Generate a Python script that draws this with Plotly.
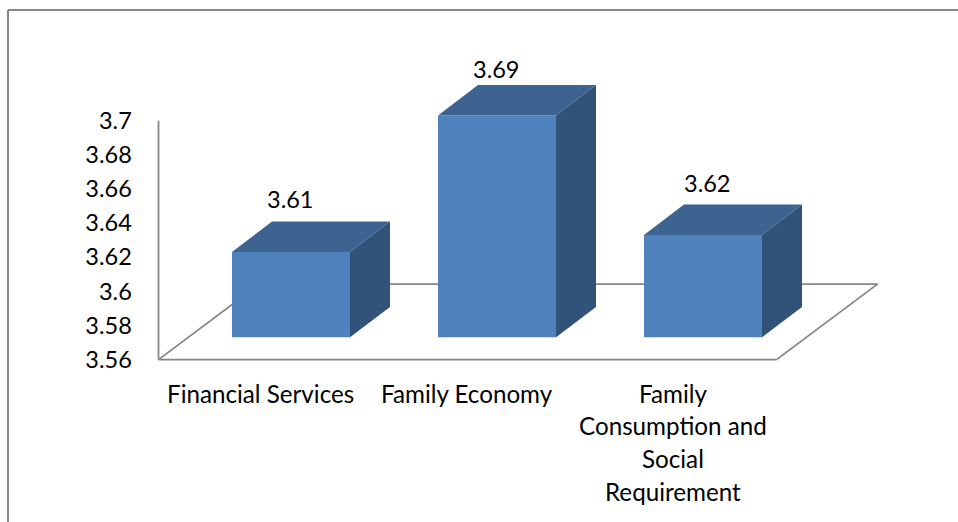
import plotly.graph_objects as go

# Series
values = [3.61, 3.69, 3.62]
value_labels = ["3.61", "3.69", "3.62"]
category_lines = [
    ["Financial Services"],
    ["Family Economy"],
    ["Family", "Consumption and", "Social", "Requirement"],
]
y_ticks = [3.56, 3.58, 3.6, 3.62, 3.64, 3.66, 3.68, 3.7]
y_tick_labels = ["3.56", "3.58", "3.6", "3.62", "3.64", "3.66", "3.68", "3.7"]

# Canvas and scale of the two axes
WIDTH, HEIGHT = 958, 522
PX_PER_CATEGORY = 206.0
PX_PER_VALUE = 1707.0
ORIGIN_X_PX = 261.5
ORIGIN_Y_PX = 359.6
AXIS_MIN = 3.56
AXIS_MAX = 3.7


def dx(px):
    return px / PX_PER_CATEGORY


def dy(px):
    return px / PX_PER_VALUE


# Oblique projection: depth of the floor, of the boxes, and the boxes' place on the floor
FLOOR_DX, FLOOR_DY = dx(101), dy(75.5)
BOX_DX, BOX_DY = dx(40), dy(30.4)
BOX_SHIFT_X, BOX_LIFT = dx(29.5), dy(22.3)
BOX_WIDTH = dx(118)

FRONT = "#4F81BD"
TOP = "#3D6390"
SIDE = "#325379"
LINE = "#868686"
FONT = "Lato"
TICK_SIZE = 23.5
VALUE_SIZE = 23.5
CATEGORY_SIZE = 24.2
# Pixel nudge of each value label above its box
LABEL_RAISE = [53, 46, 52]
LABEL_NUDGE = [-1, -1, 4]
LINE_STEP = 32.7
FIRST_LINE_DROP = 33.4

fig = go.Figure()

# Front faces
positions = [i + BOX_SHIFT_X for i in range(len(values))]
fig.add_trace(go.Bar(
    x=positions,
    y=[v - AXIS_MIN for v in values],
    base=AXIS_MIN + BOX_LIFT,
    width=BOX_WIDTH,
    marker=dict(color=FRONT, line=dict(width=0)),
    hoverinfo="skip",
    showlegend=False,
))

# Top and side faces follow from each value
for x, v in zip(positions, values):
    left, right = x - BOX_WIDTH / 2, x + BOX_WIDTH / 2
    front_top = v + BOX_LIFT
    front_base = AXIS_MIN + BOX_LIFT
    fig.add_trace(go.Scatter(
        x=[left, right, right + BOX_DX, left + BOX_DX, left],
        y=[front_top, front_top, front_top + BOX_DY, front_top + BOX_DY, front_top],
        fill="toself", fillcolor=TOP, mode="lines", line=dict(width=0),
        hoverinfo="skip", showlegend=False,
    ))
    fig.add_trace(go.Scatter(
        x=[right, right + BOX_DX, right + BOX_DX, right, right],
        y=[front_top, front_top + BOX_DY, front_base + BOX_DY, front_base, front_top],
        fill="toself", fillcolor=SIDE, mode="lines", line=dict(width=0),
        hoverinfo="skip", showlegend=False,
    ))

# Floor outline and value axis sit beneath the boxes
floor_left = -0.5
floor_right = len(values) - 0.5
floor_corners = [
    (floor_left, AXIS_MIN),
    (floor_right, AXIS_MIN),
    (floor_right + FLOOR_DX, AXIS_MIN + FLOOR_DY),
    (floor_left + FLOOR_DX, AXIS_MIN + FLOOR_DY),
    (floor_left, AXIS_MIN),
]
shapes = []
for (x0, y0), (x1, y1) in zip(floor_corners, floor_corners[1:]):
    shapes.append(dict(type="line", xref="x", yref="y", x0=x0, y0=y0, x1=x1, y1=y1,
                       line=dict(color=LINE, width=1.8), layer="below"))
shapes.append(dict(type="line", xref="x", yref="y", x0=floor_left, y0=AXIS_MIN,
                   x1=floor_left, y1=AXIS_MAX,
                   line=dict(color=LINE, width=1.8), layer="below"))

# Chart frame: top and left edges only
FRAME_LEFT = 8 / WIDTH
FRAME_TOP = 1 - 10 / HEIGHT
shapes.append(dict(type="line", xref="paper", yref="paper", x0=FRAME_LEFT, y0=FRAME_TOP,
                   x1=1, y1=FRAME_TOP, line=dict(color=LINE, width=2)))
shapes.append(dict(type="line", xref="paper", yref="paper", x0=FRAME_LEFT, y0=FRAME_TOP,
                   x1=FRAME_LEFT, y1=0, line=dict(color=LINE, width=2)))

annotations = []
# Value labels
for x, v, text, raise_px, nudge in zip(positions, values, value_labels, LABEL_RAISE, LABEL_NUDGE):
    annotations.append(dict(
        x=x, y=v + BOX_LIFT, xref="x", yref="y", text=text, showarrow=False,
        xanchor="center", yanchor="middle", xshift=nudge, yshift=raise_px,
        font=dict(family=FONT, size=VALUE_SIZE, color="#000000"),
    ))
# Wrapped category labels
for i, lines in enumerate(category_lines):
    for k, line in enumerate(lines):
        annotations.append(dict(
            x=i, y=AXIS_MIN, xref="x", yref="y", text=line, showarrow=False,
            xanchor="center", yanchor="middle",
            yshift=-(FIRST_LINE_DROP + k * LINE_STEP), xshift=-1,
            font=dict(family=FONT, size=CATEGORY_SIZE, color="#000000"),
        ))

fig.update_layout(
    width=WIDTH,
    height=HEIGHT,
    margin=dict(l=0, r=0, t=0, b=0),
    paper_bgcolor="white",
    plot_bgcolor="white",
    showlegend=False,
    shapes=shapes,
    annotations=annotations,
    xaxis=dict(
        domain=[0, 1],
        range=[-ORIGIN_X_PX / PX_PER_CATEGORY, (WIDTH - ORIGIN_X_PX) / PX_PER_CATEGORY],
        showgrid=False, zeroline=False, showline=False, showticklabels=False, ticks="",
        fixedrange=True,
    ),
    yaxis=dict(
        domain=[0, 1],
        range=[AXIS_MIN - (HEIGHT - ORIGIN_Y_PX) / PX_PER_VALUE,
               AXIS_MIN + ORIGIN_Y_PX / PX_PER_VALUE],
        anchor="free",
        position=(ORIGIN_X_PX - PX_PER_CATEGORY / 2) / WIDTH,
        side="left",
        tickmode="array",
        tickvals=y_ticks,
        ticktext=y_tick_labels,
        ticks="outside",
        ticklen=22,
        tickcolor="rgba(0,0,0,0)",
        tickfont=dict(family=FONT, size=TICK_SIZE, color="#000000"),
        showgrid=False, zeroline=False, showline=False,
        fixedrange=True,
    ),
)

fig.write_html("out.html", config=dict(displayModeBar=False))
